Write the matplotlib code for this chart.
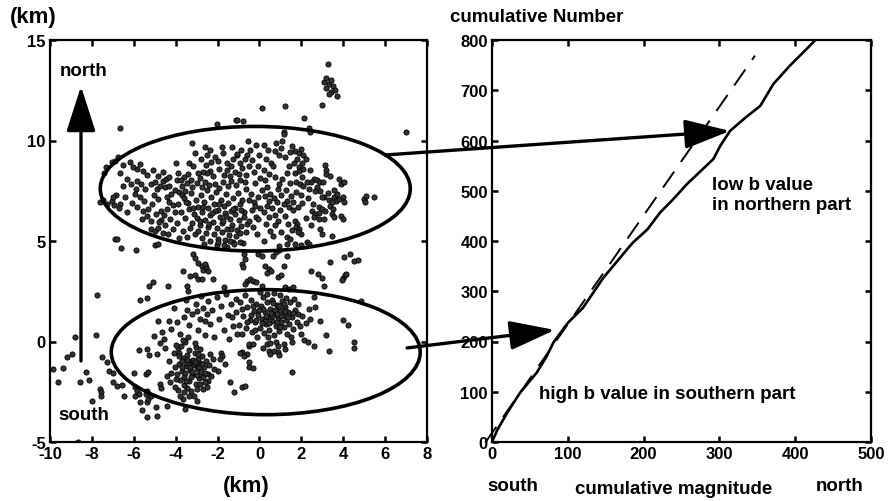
import numpy as np
import matplotlib
matplotlib.use('Agg')
import matplotlib.pyplot as plt
from matplotlib.patches import Ellipse

plt.rcParams['font.family'] = ['Liberation Sans', 'DejaVu Sans']
plt.rcParams['font.weight'] = 'bold'
plt.rcParams['axes.unicode_minus'] = False

# epicentres (km)
north_quakes = [
    (-6.65, 10.6), (-3.2, 9.9), (-3.1, 9.4), (-2.6, 9.7), (-2.5, 9.3), (-2.35, 9.55), (-2.1, 9.2),
    (-1.8, 9.7), (-1.75, 9.4), (-2.0, 9.0), (-1.55, 8.9), (-1.3, 9.7), (-1.25, 9.1), (-1.05, 9.3),
    (-2.35, 8.5), (-2.2, 8.25), (-2.5, 8.4), (-2.7, 8.45), (-1.7, 8.3), (-1.4, 8.25), (-1.15, 8.45),
    (-4.0, 8.9), (-3.35, 8.9), (-3.15, 8.75), (-2.95, 8.4), (-3.9, 8.4), (-3.4, 8.35), (-5.85, 8.6),
    (-6.5, 8.8), (-6.65, 8.4), (-6.9, 9.0), (-7.05, 8.95), (-6.75, 9.2), (-7.35, 8.7), (-7.4, 8.4),
    (-6.3, 8.1), (-6.15, 7.85), (-6.5, 7.75), (-5.85, 8.0), (-5.9, 7.6), (-7.6, 6.95), (-7.3, 6.85),
    (-7.05, 7.0), (-6.95, 6.8), (-6.65, 6.85), (-5.2, 7.85), (-5.0, 7.95), (-4.85, 8.25), (-4.6, 8.0),
    (-4.45, 8.1), (-4.3, 8.2), (-4.5, 7.7), (-4.9, 7.6), (-4.75, 7.75), (-5.7, 7.2), (-5.5, 7.0),
    (-5.3, 6.6), (-5.55, 6.5), (-5.35, 6.25), (-5.2, 6.0), (-5.6, 6.1), (-4.85, 7.1), (-4.4, 7.2),
    (-4.3, 6.95), (-4.15, 6.8), (-4.7, 6.5), (-4.55, 6.3), (-4.4, 6.6), (-4.25, 6.1), (-3.85, 7.45),
    (-3.7, 7.3), (-3.55, 7.5), (-5.2, 5.6), (-5.0, 5.5), (-4.85, 5.65), (-4.6, 5.4), (-6.9, 5.1),
    (-3.62, 7.12), (-3.41, 6.88), (-3.28, 7.41), (-3.05, 7.05), (-2.93, 6.71), (-2.81, 7.28),
    (-2.66, 6.95), (-2.52, 7.52), (-2.44, 6.62), (-2.31, 7.18), (-2.18, 6.84), (-2.07, 7.44),
    (-1.96, 6.55), (-1.84, 7.02), (-1.71, 6.73), (-1.62, 7.35), (-1.49, 6.91), (-1.37, 6.48),
    (-1.26, 7.12), (-1.15, 6.66), (-1.02, 7.38), (-0.94, 6.82), (-0.81, 7.05), (-0.72, 6.44),
    (-0.63, 7.61), (-3.74, 6.42), (-3.55, 6.15), (-3.38, 6.58), (-3.22, 5.92), (-3.14, 6.36),
    (-2.98, 6.12), (-2.86, 5.81), (-2.72, 6.44), (-2.58, 6.05), (-2.47, 5.72), (-2.36, 6.28),
    (-2.24, 5.95), (-2.12, 6.51), (-2.01, 5.66), (-1.88, 6.18), (-1.77, 5.88), (-1.66, 6.41),
    (-1.55, 5.61), (-1.42, 6.07), (-1.31, 5.79), (-1.19, 6.33), (-1.08, 5.55), (-0.97, 6.02),
    (-0.86, 5.74), (-0.75, 6.21), (-0.58, 5.86), (-3.66, 5.48), (-3.47, 5.21), (-3.31, 5.65),
    (-3.09, 5.33), (-2.91, 5.52), (-2.74, 5.14), (-2.55, 5.41), (-2.38, 5.02), (-2.19, 5.36),
    (-1.98, 5.11), (-1.81, 5.44), (-1.63, 5.07), (-1.45, 5.31), (-1.27, 4.96), (-1.12, 5.25),
    (-0.92, 5.42), (-0.79, 4.88), (-2.65, 4.85), (-2.05, 4.78), (-1.55, 4.7), (-3.88, 6.85),
    (-4.05, 6.42), (-3.95, 5.92), (-4.12, 5.6), (-4.38, 5.35), (-3.82, 5.15), (-4.22, 7.35),
    (-3.72, 7.72), (-3.48, 7.88), (-3.2, 7.7), (-2.98, 7.9), (-2.75, 7.68), (-2.58, 7.95),
    (-2.4, 7.78), (-2.14, 7.86), (-1.92, 7.66), (-1.75, 7.92), (-1.52, 7.75), (-1.35, 7.98),
    (-1.12, 7.8), (-0.92, 8.02), (-0.68, 7.92), (-1.0, 8.35), (-0.82, 8.62), (-0.62, 8.28),
    (-0.48, 8.72), (-0.95, 8.88), (-0.7, 9.1), (-1.05, 9.35), (-0.88, 9.52), (-0.6, 9.3),
    (-0.45, 9.55), (-0.55, 10.0), (-0.15, 9.8), (0.2, 9.8), (0.8, 9.9), (1.1, 10.0), (1.15, 10.4),
    (0.0, 9.3), (0.4, 9.55), (1.05, 9.65), (0.95, 9.3), (1.2, 9.2), (1.7, 9.5), (1.9, 9.4),
    (2.0, 9.6), (2.1, 9.3), (1.8, 9.1), (1.65, 8.9), (2.05, 8.9), (1.9, 8.7), (2.2, 9.1),
    (0.55, 8.9), (0.65, 8.75), (1.4, 8.75), (1.3, 8.4), (1.7, 8.4), (1.9, 8.5), (2.1, 8.6),
    (2.4, 8.55), (-0.05, 8.75), (3.15, 8.8), (3.2, 8.55), (3.2, 8.35), (3.35, 8.25),
    (-0.42, 7.35), (-0.28, 6.95), (-0.35, 6.52), (-0.18, 6.18), (-0.3, 5.72), (-0.12, 5.35),
    (0.05, 6.62), (-0.05, 7.18), (0.12, 7.52), (-0.22, 7.88), (0.02, 8.15), (0.25, 8.02),
    (0.35, 7.68), (0.5, 7.35), (0.9, 7.6), (0.95, 7.85), (0.45, 7.0), (0.68, 7.15), (0.82, 6.92),
    (1.05, 7.28), (1.3, 7.0), (1.52, 7.22), (1.62, 6.95), (1.15, 6.85), (1.42, 6.68), (1.62, 6.55),
    (1.85, 6.7), (2.05, 6.88), (0.2, 6.45), (0.38, 6.72), (0.45, 6.2), (0.9, 6.0), (0.5, 5.5),
    (0.2, 5.0), (-0.05, 6.1), (0.72, 5.78), (1.02, 5.45), (1.22, 6.25), (1.75, 7.95), (1.95, 7.85),
    (2.1, 7.75), (2.35, 7.6), (1.75, 7.45), (2.0, 7.3), (2.6, 8.1), (2.75, 8.05), (2.9, 7.95),
    (3.05, 7.95), (2.75, 7.7), (2.65, 7.5), (2.9, 7.5), (3.25, 7.4), (3.8, 8.1), (3.9, 7.85),
    (4.05, 7.95), (3.1, 7.2), (3.3, 7.05), (3.55, 7.2), (3.65, 7.0), (3.8, 7.1), (4.0, 7.2),
    (4.05, 6.95), (3.7, 7.35), (3.35, 6.75), (3.45, 6.95), (3.5, 6.6), (2.85, 6.7), (3.0, 6.6),
    (3.15, 6.5), (2.5, 6.5), (2.65, 6.35), (2.85, 6.4), (2.6, 6.2), (2.85, 6.1), (3.1, 6.1),
    (3.45, 6.35), (3.55, 6.2), (3.9, 6.25), (4.0, 6.1), (5.0, 7.1), (5.05, 6.95), (5.1, 7.25),
    (5.45, 7.2), (1.7, 6.0), (1.8, 5.85), (1.75, 5.7), (1.9, 5.6), (2.0, 5.35), (1.85, 5.45),
    (1.3, 5.2), (1.45, 5.1), (2.25, 4.95), (2.9, 5.6), (3.0, 5.35), (3.45, 5.25), (2.45, 5.8),
    (2.2, 6.15), (-6.2, 8.95), (-6.05, 8.7), (-5.7, 8.85), (-5.55, 8.5), (-5.35, 8.3), (-5.1, 8.55),
    (-6.85, 7.3), (-6.4, 7.2), (-6.1, 6.9), (-5.85, 6.7), (-6.3, 6.45), (-5.95, 7.35), (-5.05, 7.3),
    (-5.15, 6.85), (-4.95, 6.35), (-4.7, 6.05), (-4.5, 5.8), (-4.8, 5.95), (-3.95, 8.05),
    (-3.6, 8.2), (-3.25, 8.05), (-2.85, 8.15), (-2.55, 8.8), (-2.8, 9.1), (-2.3, 8.95), (-1.95, 8.6),
    (-1.55, 8.55), (-1.35, 8.75), (-3.5, 6.95), (-3.15, 6.62), (-2.68, 6.68), (-2.27, 6.4),
    (-1.93, 6.82), (-1.58, 6.25), (-1.24, 6.58), (-0.9, 6.55), (-2.85, 5.98), (-2.42, 5.85),
    (-1.72, 5.98), (-1.38, 5.62), (-0.66, 5.45), (-0.48, 6.0), (-0.52, 7.05), (-0.2, 6.75),
    (0.28, 7.22), (0.6, 6.65), (0.75, 6.3), (1.0, 6.55), (1.35, 5.85), (1.55, 5.55), (0.3, 5.85),
    (0.65, 5.25), (2.3, 7.15), (2.55, 6.85), (2.45, 7.95), (3.0, 7.2), (3.55, 7.55), (2.05, 8.2),
    (2.25, 7.95), (0.45, 8.35), (0.75, 8.2), (1.1, 8.1), (1.45, 7.9), (1.25, 7.55), (0.2, 8.55),
    (-0.25, 8.45), (-0.35, 9.05), (0.3, 9.1), (0.75, 9.5), (1.45, 9.45), (1.55, 9.75), (-4.3, 7.75),
    (-4.05, 7.55), (-3.75, 8.05), (-4.6, 8.45), (-5.45, 7.6), (-5.65, 7.85), (-6.7, 6.65),
    (-7.0, 7.2), (-7.45, 7.05),
]

top_outliers = [
    (3.25, 13.8), (3.1, 12.9), (3.2, 12.6), (3.3, 12.8), (3.4, 12.4), (3.5, 12.7), (3.3, 12.3),
    (3.6, 12.5), (3.2, 13.1), (3.4, 13.0), (3.7, 12.2), (2.97, 11.75), (0.1, 11.6), (1.2, 11.7),
    (2.15, 11.1), (7.0, 10.4), (-1.1, 11.0), (-0.8, 10.95), (2.35, 10.6), (2.4, 10.4),
    (1.15, 10.3), (-2.05, 10.8), (-1.05, 11.0),
]

middle_quakes = [
    (-6.6, 4.65), (-5.9, 4.55), (-6.8, 5.1), (-5.0, 4.8), (-4.85, 4.85), (-3.15, 4.35), (-3.1, 4.15),
    (-2.95, 3.9), (-2.75, 3.75), (-2.7, 3.55), (-2.55, 3.7), (-2.45, 3.5), (-2.6, 3.85), (-3.65, 3.5),
    (-3.3, 3.25), (-3.1, 3.3), (-2.95, 3.1), (-2.75, 3.1), (-2.2, 3.1), (-3.45, 2.75), (-3.4, 2.5),
    (-5.1, 2.95), (-5.25, 2.75), (-4.35, 2.75), (-5.7, 2.05), (-5.35, 2.15), (-7.75, 2.3),
    (-1.7, 2.7), (-1.4, 5.0), (-1.2, 4.85), (-2.0, 4.95), (-1.7, 4.8), (-0.95, 4.95), (0.95, 4.75),
    (1.3, 4.85), (1.7, 4.85), (2.0, 4.8), (2.35, 4.85), (-0.75, 4.35), (-0.7, 4.1), (-0.85, 3.85),
    (-0.8, 3.7), (-0.05, 4.35), (0.1, 4.25), (0.65, 4.25), (0.8, 4.45), (0.95, 4.55), (1.3, 4.25),
    (0.25, 3.75), (0.45, 3.6), (0.55, 3.5), (0.35, 3.4), (1.15, 3.75), (0.9, 3.2), (1.05, 3.3),
    (-0.6, 3.0), (-0.45, 3.1), (-0.3, 3.0), (-0.15, 2.95), (-0.7, 2.85), (0.1, 2.75), (1.2, 2.7),
    (1.4, 2.6), (1.6, 2.7), (3.35, 3.95), (2.45, 3.5), (2.8, 3.35), (3.0, 3.15), (3.1, 2.75),
    (4.05, 4.2), (4.3, 4.35), (4.5, 4.0), (4.7, 4.05), (4.0, 3.15), (4.1, 3.3), (4.15, 3.35),
    (3.95, 3.05), (4.85, 2.0), (2.6, 2.2),
]

south_quakes = [
    (2.35, 1.6), (2.65, 1.7), (2.4, 1.1), (2.9, 1.0), (4.0, 1.05), (4.25, 0.8), (3.2, 0.3),
    (4.5, 0.0), (4.5, -0.3), (2.15, 0.05), (2.3, 0.0), (2.6, -0.2), (3.3, -0.45), (1.55, -1.5),
    (-8.8, 0.2), (-7.8, 0.3), (-8.95, -0.6), (-9.2, -0.75), (-9.85, -1.35), (-9.4, -1.3),
    (-9.6, -2.0), (-8.55, -2.0), (-8.3, -1.5), (-8.15, -1.9), (-8.0, -2.95), (-7.6, -2.35),
    (-7.58, -2.5), (-7.55, -2.7), (-7.5, -0.75), (-7.3, -1.0), (-7.2, -1.45), (-7.0, -1.55),
    (-7.0, -2.0), (-6.8, -2.2), (-6.55, -2.15), (-6.45, -2.7), (-6.0, -1.55), (-5.95, -2.25),
    (-5.85, -2.45), (-5.75, -2.6), (-5.95, -2.7), (-5.35, -2.45), (-5.4, -2.6), (-5.7, -3.0),
    (-5.6, -3.4), (-5.35, -3.0), (-5.35, -3.75), (-4.9, -3.7), (-4.95, -3.25), (-5.3, -2.85),
    (-5.2, -2.7), (-4.4, -3.2), (-5.75, -0.4), (-5.35, -0.35), (-5.25, -0.65), (-5.4, -1.6),
    (-5.3, -1.5), (-4.75, -0.05), (-4.55, 0.1), (-4.4, -1.7), (-4.75, -2.1), (-4.7, -2.3),
    (-4.25, -2.0), (-4.1, -0.55), (-3.85, -0.55), (-3.9, -0.3), (-3.75, -0.2), (-3.55, 0.0),
    (-3.65, -2.85), (-3.55, -3.35), (-1.85, -0.55), (-1.8, -0.7), (-1.9, -0.85), (-2.0, -1.45),
    (-1.65, -1.1), (-1.4, -2.0), (-1.2, -2.5), (-2.7, -2.35), (-2.45, -1.95), (-8.65, -5.0),
    (-3.85, -1.1), (-3.72, -1.45), (-3.64, -0.82), (-3.58, -1.75), (-3.5, -1.22), (-3.44, -0.65),
    (-3.38, -1.98), (-3.33, -1.41), (-3.27, -0.95), (-3.21, -1.66), (-3.16, -1.18), (-3.1, -0.55),
    (-3.05, -2.12), (-3.0, -1.35), (-2.95, -0.88), (-2.9, -1.82), (-2.84, -1.05), (-2.78, -1.52),
    (-2.72, -0.72), (-2.66, -1.28), (-2.6, -2.0), (-2.55, -0.95), (-2.48, -1.6), (-2.42, -1.15),
    (-2.36, -0.62), (-3.48, -2.3), (-3.62, -2.15), (-3.78, -1.92), (-3.9, -2.42), (-3.25, -2.45),
    (-3.12, -2.72), (-2.98, -2.38), (-3.35, -0.4), (-3.05, -0.25), (-2.82, -0.38), (-3.4, -1.05),
    (-3.2, -1.5), (-2.95, -1.15), (-2.88, -1.28), (-3.15, -0.9), (-3.3, -1.25), (-3.0, -1.65),
    (-2.7, -1.75), (-3.55, -1.55), (-3.7, -0.95), (-4.05, -1.25), (-4.2, -1.55), (-4.0, -1.85),
    (-4.3, -0.95), (-2.2, -0.85), (-2.15, -1.35), (-2.3, -1.7), (-3.8, -2.7), (-4.05, -2.25),
    (-4.2, 0.6), (-3.95, 0.95), (-3.8, 0.35), (-3.6, 1.2), (-3.45, 1.55), (-3.35, 0.8), (-3.2, 1.35),
    (-3.05, 1.85), (-2.95, 0.55), (-2.85, 1.1), (-2.7, 1.65), (-2.6, 0.3), (-2.5, 1.35), (-2.45, 2.0),
    (-2.35, 0.85), (-2.25, 1.55), (-2.15, 0.2), (-2.05, 2.2), (-1.95, 1.1), (-1.85, 1.75),
    (-1.7, 0.55), (-1.6, 2.35), (-1.5, 1.3), (-1.45, 0.1), (-1.35, 1.85), (-1.25, 0.75),
    (-3.65, 0.05), (-4.5, -0.3), (-4.65, 0.45), (-4.85, 1.0), (-4.3, 1.0), (-4.0, -0.15),
    (-3.4, 0.2), (-3.1, -0.05), (-1.1, 2.1), (-1.05, 0.35), (-2.8, 2.25), (-3.5, 2.05),
    (-4.1, 1.65), (-5.05, 0.25), (-4.9, -0.6), (-1.1, 1.45), (-0.98, 0.82), (-0.92, 1.95),
    (-0.85, 0.35), (-0.78, 1.25), (-0.7, 2.3), (-0.65, 0.65), (-0.58, 1.7), (-0.52, -0.2),
    (-0.45, 1.05), (-0.4, 2.05), (-0.35, 0.45), (-0.28, 1.5), (-0.22, 0.95), (-0.15, 1.85),
    (-0.1, 0.2), (-0.05, 1.3), (0.02, 0.65), (0.08, 1.75), (0.12, 1.1), (0.18, 2.2), (0.22, 0.4),
    (0.28, 1.45), (0.32, 0.85), (0.38, 1.95), (0.42, 1.2), (0.48, 0.55), (0.52, 1.62), (0.58, 1.02),
    (0.62, 2.05), (0.68, 0.3), (0.72, 1.35), (0.78, 0.78), (0.82, 1.82), (0.88, 1.15), (0.92, 0.5),
    (0.98, 1.55), (1.02, 0.95), (1.08, 2.0), (1.12, 1.3), (1.18, 0.7), (1.22, 1.7), (1.28, 1.05),
    (1.32, 0.35), (1.38, 1.45), (1.42, 0.85), (1.48, 1.95), (1.55, 1.2), (1.6, 0.6), (1.7, 1.55),
    (1.78, 0.95), (1.85, 1.35), (1.95, 0.75), (2.05, 1.25), (0.05, 2.45), (0.35, 2.35), (0.7, 2.4),
    (1.0, 2.3), (-0.85, -0.5), (-0.6, -0.6), (-0.95, -0.55), (-0.75, -0.7), (-0.5, -0.1),
    (-0.3, -0.1), (-0.5, -1.0), (-0.5, -1.25), (-0.3, -1.3), (-0.85, -2.25), (-0.7, -2.2),
    (0.35, -0.1), (0.5, -0.05), (0.8, 0.0), (0.9, -0.2), (1.15, -0.1), (0.45, -0.45), (0.5, -0.6),
    (0.7, -0.45), (0.9, -0.5), (0.95, -0.65), (1.55, 0.0), (1.2, -0.35), (0.15, -0.3), (-0.2, 0.55),
    (0.25, 1.0), (0.6, 1.25), (0.95, 1.75), (1.25, 2.15), (1.5, 0.2), (1.65, 2.1), (1.85, 1.85),
    (2.0, 0.35), (2.2, 0.9), (-3.45, -0.9), (-3.25, -1.78), (-3.08, -1.02), (-2.92, -0.6),
    (-2.75, -1.1), (-2.62, -1.55), (-3.52, -1.95), (-3.68, -1.25), (-3.95, -1.6), (-3.82, -0.7),
    (-2.5, -2.25), (-3.35, -2.7), (-3.0, -2.95), (-3.6, -2.5), (-2.85, -2.1), (-0.15, 1.05),
    (0.15, 1.6), (0.45, 0.9), (0.55, 1.4), (0.75, 1.55), (0.85, 0.95), (1.05, 1.25), (1.2, 1.5),
    (0.3, 1.25), (0.65, 1.9), (1.35, 1.2), (1.0, 0.7), (0.4, 0.2), (0.1, 0.9), (-0.4, 1.3),
    (-0.6, 0.95), (-0.3, 1.75), (0.0, 1.55), (0.85, 1.35), (1.6, 1.4), (1.15, 1.85), (-0.85, 1.6),
    (-1.3, 1.2), (-2.6, 1.0), (-3.0, 1.5),
]

# right panel: cumulative number vs cumulative magnitude
cum_mag = [0, 7, 20, 37, 59, 72, 81, 100, 120, 147, 178, 186, 205, 222, 239, 257, 278, 292,
           301, 314, 334, 354, 371, 393, 415, 428]
cum_num = [0, 24, 58, 98, 138, 170, 198, 237, 267, 327, 383, 397, 423, 457, 483, 513, 543, 563,
           589, 619, 645, 669, 712, 749, 782, 802]
fit_mag = [-9, 347]
fit_num = [-1.5, 769]

W, H = 889, 502
fig = plt.figure(figsize=(W / 100, H / 100), dpi=100)
ax1 = fig.add_axes([50 / W, 1 - 443 / H, 377 / W, 402 / H])
ax2 = fig.add_axes([492 / W, 1 - 443 / H, 379 / W, 402 / H])

pts = np.array(north_quakes + top_outliers + middle_quakes + south_quakes)
ax1.scatter(pts[:, 0], pts[:, 1], s=14, facecolor='#333333', edgecolor='k', linewidths=0.6, zorder=2)
ax1.add_patch(Ellipse((-0.2, 7.6), 14.8, 6.2, fill=False, lw=2.6, ec='k', zorder=3))
ax1.add_patch(Ellipse((0.3, -0.53), 14.75, 6.22, fill=False, lw=2.6, ec='k', zorder=3))
ax1.annotate('', xy=(-8.52, 12.7), xytext=(-8.52, -0.97),
             arrowprops=dict(arrowstyle='-|>,head_length=1.4,head_width=0.45', mutation_scale=20,
                             lw=2.4, color='k', shrinkA=0, shrinkB=0))
ax1.set_xlim(-10, 8)
ax1.set_ylim(-5, 15)
ax1.set_xticks(np.arange(-10, 9, 2))
ax1.set_yticks([-5, 0, 5, 10, 15])
ax1.text(-8.4, 13.5, 'north', fontsize=13.5, fontweight='bold', ha='center', va='center')
ax1.text(-8.4, -3.65, 'south', fontsize=13.5, fontweight='bold', ha='center', va='center')

ax2.plot(cum_mag, cum_num, color='k', lw=1.9, zorder=3)
ax2.plot(fit_mag, fit_num, color='k', lw=1.4, dashes=(10, 6), clip_on=False, zorder=2)
ax2.set_xlim(0, 500)
ax2.set_ylim(0, 800)
ax2.set_xticks(range(0, 501, 100))
ax2.set_yticks(range(0, 801, 100))
ax2.text(290.5, 493, 'low b value\nin northern part', fontsize=13.5, fontweight='bold',
         ha='left', va='center', linespacing=1.25)
ax2.text(62, 96, 'high b value in southern part', fontsize=13.5, fontweight='bold', ha='left', va='center')

for ax in (ax1, ax2):
    for sp in ax.spines.values():
        sp.set_linewidth(1.6)
    ax.tick_params(direction='in', length=4, width=1.8, top=True, right=True, labelsize=12, pad=3)
    for lab in ax.get_xticklabels() + ax.get_yticklabels():
        lab.set_fontweight('bold')

# arrows linking the ellipses to the curve
arrow = dict(arrowstyle='-|>,head_length=1.4,head_width=0.45', mutation_scale=20,
             lw=2.4, color='k', shrinkA=0, shrinkB=0)
ax2.annotate('', xy=(314, 619), xycoords=ax2.transData, xytext=(6.0, 9.28), textcoords=ax1.transData,
             arrowprops=arrow, annotation_clip=False, zorder=5)
ax2.annotate('', xy=(83, 223), xycoords=ax2.transData, xytext=(7.05, -0.32), textcoords=ax1.transData,
             arrowprops=arrow, annotation_clip=False, zorder=5)

fig.text(33 / W, 1 - 18 / H, '(km)', fontsize=16, fontweight='bold', ha='center', va='center')
fig.text(246 / W, 1 - 487 / H, '(km)', fontsize=16, fontweight='bold', ha='center', va='center')
fig.text(450 / W, 1 - 17 / H, 'cumulative Number', fontsize=13.5, fontweight='bold', ha='left', va='center')
fig.text(513 / W, 1 - 487 / H, 'south', fontsize=13.5, fontweight='bold', ha='center', va='center')
fig.text(674 / W, 1 - 490 / H, 'cumulative magnitude', fontsize=13.5, fontweight='bold', ha='center', va='center')
fig.text(840 / W, 1 - 487 / H, 'north', fontsize=13.5, fontweight='bold', ha='center', va='center')

fig.savefig('out.png', dpi=100)
